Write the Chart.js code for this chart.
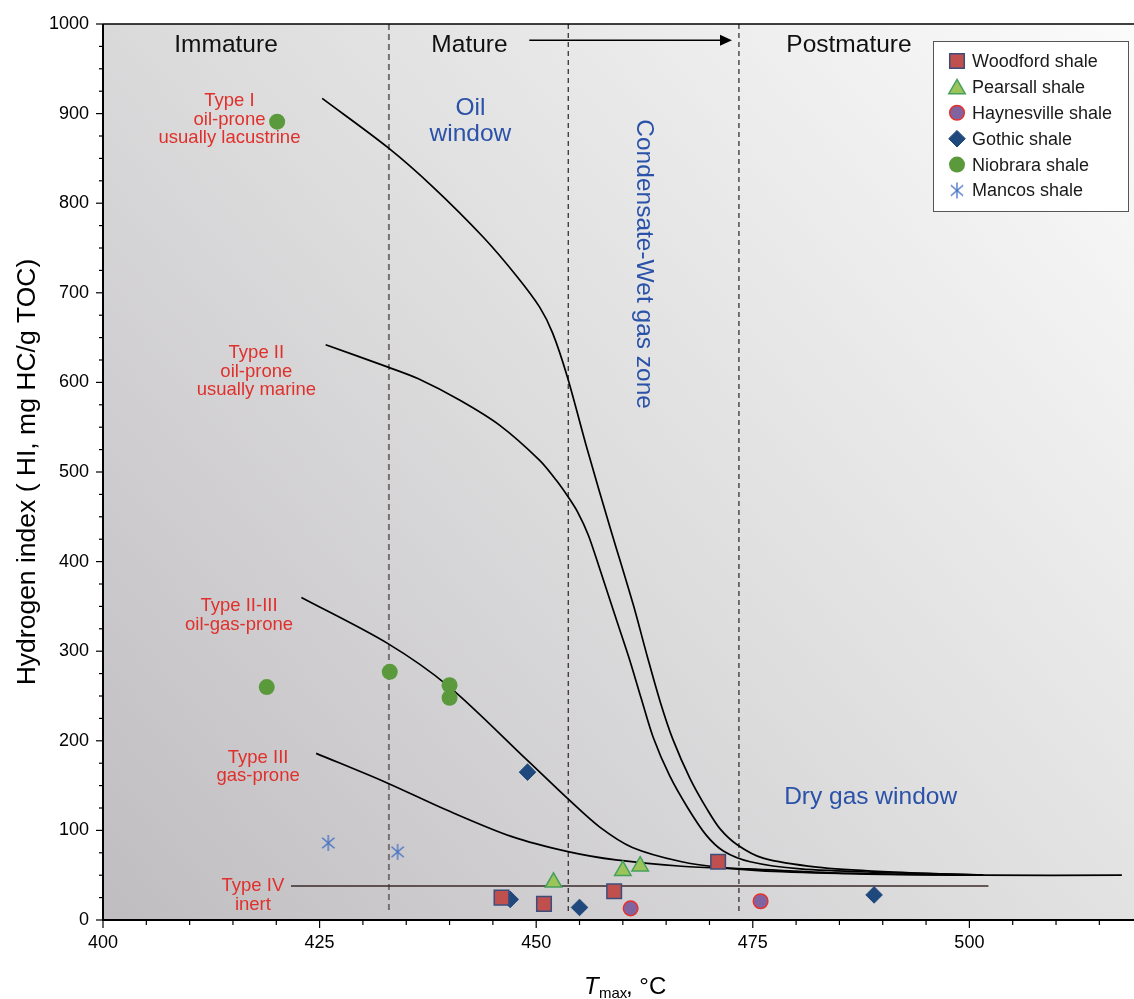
<!DOCTYPE html>
<html>
<head>
<meta charset="utf-8">
<script src="https://cdn.jsdelivr.net/npm/chart.js@4.4.1/dist/chart.umd.min.js"></script>
<style>
body{margin:0;background:#fff;}
#wrap{width:1134px;height:999px;}
</style>
</head>
<body>
<div id="wrap"><canvas id="grafica" width="1134" height="999"></canvas></div>
<script>

// DATOS

const xTicks = [400, 425, 450, 475, 500];
const yTicks = [0, 100, 200, 300, 400, 500, 600, 700, 800, 900, 1000];

const woodfordT  = [446.0, 450.9, 459.0, 471.0];
const woodfordHI = [25, 18, 32, 65];

const pearsallT  = [452.0, 460.0, 462.0];
const pearsallHI = [42, 55, 60];

const haynesvilleT  = [460.9, 475.9];
const haynesvilleHI = [13, 21];

const gothicT  = [447.0, 455.0, 449.0, 489.0];
const gothicHI = [23, 14, 165, 28];

const niobraraT  = [420.1, 418.9, 433.1, 440.0, 440.0];
const niobraraHI = [891, 260, 277, 262, 248];

const mancosT  = [426.0, 434.0];
const mancosHI = [86, 76];

// curvas de tipo de kerogeno
const typeIT  = [425.3, 432.9, 438.1, 443.9, 447.8, 450.4, 451.9, 453.6, 455.9, 458.5, 461.2, 462.8, 464.3, 465.8, 467.8, 469.7, 471.2, 473.2, 476.2, 482.4, 490.0, 501.6];
const typeIHI = [917, 862, 818, 762, 718, 684, 655, 606, 525, 439, 352, 295, 244, 201, 157, 124, 102, 84, 69, 59, 54, 50];

const typeIIT  = [425.7, 432.9, 436.4, 441.2, 445.8, 450.4, 452.3, 453.7, 454.8, 456.0, 457.4, 459.3, 460.8, 462.1, 463.5, 465.4, 467.5, 469.6, 471.6, 474.7, 480.5, 490.0, 501.6];
const typeIIHI = [642, 617, 604, 580, 552, 513, 491, 472, 455, 430, 390, 334, 290, 248, 204, 161, 125, 95, 77, 65, 57, 53, 50];

const typeIIIIT  = [422.9, 432.8, 440.0, 448.9, 453.8, 457.3, 461.1, 466.8, 471.9, 478.3, 489.9, 501.4];
const typeIIIIHI = [360, 309, 260, 179, 134, 104, 81, 65, 58, 54, 51, 50];

const typeIIIT  = [424.6, 432.8, 439.6, 447.2, 453.8, 459.2, 466.8, 474.5, 486.1, 501.4, 517.6];
const typeIIIHI = [186, 153, 123, 93, 76, 67, 60, 57, 52, 50, 50];

const typeIVT  = [421.7, 502.2];
const typeIVHI = [38, 38];

// limites de zonas de madurez
const zoneT = [433.0, 453.7, 473.4];


function pts(xs, ys){
    return xs.map((x, i) => ({x: x, y: ys[i]}));
}

const fuente = '"Liberation Sans", Arial, sans-serif';


// ASTERISCO PARA MANCOS

function asterisco(color){
    const c = document.createElement('canvas');
    c.width = 20;
    c.height = 20;
    const g = c.getContext('2d');
    g.strokeStyle = color;
    g.lineWidth = 1.3;
    const r = 8;
    [90, 40, 140].forEach(a => {
        const rad = a * Math.PI / 180;
        g.beginPath();
        g.moveTo(10 - r * Math.cos(rad), 10 - r * Math.sin(rad));
        g.lineTo(10 + r * Math.cos(rad), 10 + r * Math.sin(rad));
        g.stroke();
    });
    return c;
}

const estrella = asterisco('#4472c4');


// SERIES

const marcas = [
    {label: 'Woodford shale', data: pts(woodfordT, woodfordHI), pointStyle: 'rect', pointRadius: 10.3,
     backgroundColor: '#c0504d', borderColor: '#3c4d7c', borderWidth: 1.5},
    {label: 'Pearsall shale', data: pts(pearsallT, pearsallHI), pointStyle: 'triangle', pointRadius: 9.5,
     backgroundColor: '#9bc45a', borderColor: '#44a05c', borderWidth: 1.5},
    {label: 'Haynesville shale', data: pts(haynesvilleT, haynesvilleHI), pointStyle: 'circle', pointRadius: 7.3,
     backgroundColor: '#8064a2', borderColor: '#e8302a', borderWidth: 1.5},
    {label: 'Gothic shale', data: pts(gothicT, gothicHI), pointStyle: 'rectRot', pointRadius: 8.3,
     backgroundColor: '#1f497d', borderColor: '#1f497d', borderWidth: 1},
    {label: 'Niobrara shale', data: pts(niobraraT, niobraraHI), pointStyle: 'circle', pointRadius: 8,
     backgroundColor: '#5b9a3c', borderColor: '#5b9a3c', borderWidth: 0},
    {label: 'Mancos shale', data: pts(mancosT, mancosHI), pointStyle: estrella, pointRadius: 8,
     backgroundColor: '#4472c4', borderColor: '#4472c4', borderWidth: 0}
];

const curvas = [typeIT, typeIIT, typeIIIIT, typeIIIT].map((xs, i) => ({
    label: 'curva' + i,
    data: pts(xs, [typeIHI, typeIIHI, typeIIIIHI, typeIIIHI][i]),
    showLine: true,
    pointRadius: 0,
    borderColor: '#000',
    borderWidth: 1.7,
    tension: 0.3
}));

const tipoIV = {
    label: 'tipoIV',
    data: pts(typeIVT, typeIVHI),
    showLine: true,
    pointRadius: 0,
    borderColor: '#3a2a2a',
    borderWidth: 1.4
};

const zonas = zoneT.map((t, i) => ({
    label: 'zona' + i,
    data: [{x: t, y: 1000}, {x: t, y: 9}],
    showLine: true,
    pointRadius: 0,
    borderColor: i == 0 ? '#77726f' : '#2a2424',
    borderWidth: i == 0 ? 2 : 1.2,
    borderDash: i == 0 ? [6, 4] : [5, 4]
}));


// FONDO DEGRADADO

const fondo = {
    id: 'fondo',
    beforeDatasetsDraw(chart){
        const {ctx, chartArea: a} = chart;
        const g = ctx.createLinearGradient(a.left, a.bottom, a.right, a.top);
        g.addColorStop(0, '#bfbdc0');
        g.addColorStop(0.5, '#dfdedf');
        g.addColorStop(1, '#fbfbfb');
        ctx.save();
        ctx.fillStyle = g;
        ctx.fillRect(a.left, a.top, a.right - a.left, a.bottom - a.top);
        ctx.restore();
    }
};


// EJES, TEXTOS Y LEYENDA

const adornos = {
    id: 'adornos',
    afterDatasetsDraw(chart){
        const {ctx, chartArea: a} = chart;
        const sx = chart.scales.x;
        const sy = chart.scales.y;
        const X = v => sx.getPixelForValue(v);
        const Y = v => sy.getPixelForValue(v);

        ctx.save();

        // ejes
        ctx.strokeStyle = '#000';
        ctx.lineWidth = 2;
        ctx.beginPath();
        ctx.moveTo(a.left, a.top);
        ctx.lineTo(a.left, a.bottom);
        ctx.lineTo(a.right, a.bottom);
        ctx.stroke();
        ctx.lineWidth = 1.5;
        ctx.beginPath();
        ctx.moveTo(a.left, a.top);
        ctx.lineTo(a.right, a.top);
        ctx.stroke();

        ctx.lineWidth = 1.2;
        for(let v = 0; v <= 1000; v += 25){
            const len = v % 100 == 0 ? 7 : 4;
            ctx.beginPath();
            ctx.moveTo(a.left - len, Y(v));
            ctx.lineTo(a.left, Y(v));
            ctx.stroke();
        }
        for(let v = 400; v <= 515; v += 5){
            const len = v % 25 == 0 ? 8 : 5;
            ctx.beginPath();
            ctx.moveTo(X(v), a.bottom);
            ctx.lineTo(X(v), a.bottom + len);
            ctx.stroke();
        }

        // flecha
        ctx.lineWidth = 1.5;
        ctx.beginPath();
        ctx.moveTo(X(449.2), Y(982));
        ctx.lineTo(X(472.6) - 10, Y(982));
        ctx.stroke();
        ctx.fillStyle = '#000';
        ctx.beginPath();
        ctx.moveTo(X(472.6), Y(982));
        ctx.lineTo(X(472.6) - 12, Y(982) - 5.5);
        ctx.lineTo(X(472.6) - 12, Y(982) + 5.5);
        ctx.closePath();
        ctx.fill();

        ctx.textAlign = 'center';
        ctx.textBaseline = 'middle';

        // zonas
        ctx.fillStyle = '#111';
        ctx.font = '24.5px ' + fuente;
        ctx.fillText('Immature', X(414.2), Y(976));
        ctx.fillText('Mature', X(442.3), Y(976));
        ctx.fillText('Postmature', X(486.1), Y(976));

        ctx.fillStyle = '#2a52a8';
        ctx.fillText('Oil', X(442.4), Y(906));
        ctx.fillText('window', X(442.4), Y(877));
        ctx.fillText('Dry gas window', X(488.6), Y(137));

        ctx.save();
        ctx.translate(X(462.4), Y(732));
        ctx.rotate(Math.PI / 2);
        ctx.fillText('Condensate-Wet gas zone', 0, 0);
        ctx.restore();

        // tipos de kerogeno
        ctx.fillStyle = '#e0302c';
        ctx.font = '18.5px ' + fuente;
        const tipos = [
            [414.6, [914, 893, 873], ['Type I', 'oil-prone', 'usually lacustrine']],
            [417.7, [633, 612, 592], ['Type II', 'oil-prone', 'usually marine']],
            [415.7, [350, 329], ['Type II-III', 'oil-gas-prone']],
            [417.9, [181, 161], ['Type III', 'gas-prone']],
            [417.3, [38, 17], ['Type IV', 'inert']]
        ];
        tipos.forEach(t => {
            t[2].forEach((s, i) => ctx.fillText(s, X(t[0]), Y(t[1][i])));
        });

        // titulo eje x
        ctx.fillStyle = '#000';
        ctx.textAlign = 'left';
        ctx.textBaseline = 'alphabetic';
        ctx.font = 'italic 24px ' + fuente;
        ctx.fillText('T', 584, 994);
        ctx.font = '15px ' + fuente;
        ctx.fillText('max', 599, 998);
        ctx.font = '24px ' + fuente;
        ctx.fillText(', °C', 626, 994);

        // leyenda
        ctx.fillStyle = '#fff';
        ctx.fillRect(933, 41, 196, 171);
        ctx.strokeStyle = '#555';
        ctx.lineWidth = 1;
        ctx.strokeRect(933.5, 41.5, 195, 170);
        ctx.font = '18px ' + fuente;
        ctx.textBaseline = 'middle';
        marcas.forEach((m, i) => {
            const y = 61 + i * 25.9;
            const dy = m.pointStyle == 'triangle' ? 2 : 0;
            ctx.fillStyle = m.backgroundColor;
            ctx.strokeStyle = m.borderColor;
            ctx.lineWidth = m.borderWidth;
            Chart.helpers.drawPoint(ctx, {
                pointStyle: m.pointStyle,
                radius: m.pointRadius,
                rotation: 0,
                borderWidth: m.borderWidth
            }, 957, y + dy);
            ctx.fillStyle = '#1a1a1a';
            ctx.fillText(m.label, 972, y + 1);
        });

        ctx.restore();
    }
};


// GRAFICA

const ctx = document.getElementById('grafica');

new Chart(ctx, {

    type: 'scatter',

    data: {
        datasets: [...marcas, tipoIV, ...curvas, ...zonas]
    },

    options: {

        responsive: false,
        animation: false,

        layout: {
            autoPadding: false,
            padding: {top: 24, right: 0, left: 0, bottom: 0}
        },

        plugins: {
            legend: {display: false},
            tooltip: {enabled: false}
        },

        scales: {

            x: {
                type: 'linear',
                min: 400,
                max: 519,
                afterBuildTicks: s => { s.ticks = xTicks.map(v => ({value: v})); },
                afterFit: s => { s.height = 79; s.paddingLeft = 0; s.paddingRight = 0; },
                grid: {display: false, drawTicks: false},
                border: {display: false},
                ticks: {
                    color: '#000',
                    padding: 12,
                    font: {size: 18, family: fuente}
                }
            },

            y: {
                type: 'linear',
                min: 0,
                max: 1000,
                afterBuildTicks: s => { s.ticks = yTicks.map(v => ({value: v})); },
                afterFit: s => { s.width = 103; s.paddingTop = 0; s.paddingBottom = 0; },
                grid: {display: false, drawTicks: false},
                border: {display: false},
                ticks: {
                    color: '#000',
                    padding: 14,
                    font: {size: 18, family: fuente},
                    callback: v => String(v)
                },
                title: {
                    display: true,
                    text: 'Hydrogen index ( HI, mg HC/g TOC)',
                    color: '#000',
                    padding: {top: 12, bottom: 0},
                    font: {size: 26.5, family: fuente}
                }
            }

        }

    },

    plugins: [fondo, adornos]

});

</script>
</body>
</html>
